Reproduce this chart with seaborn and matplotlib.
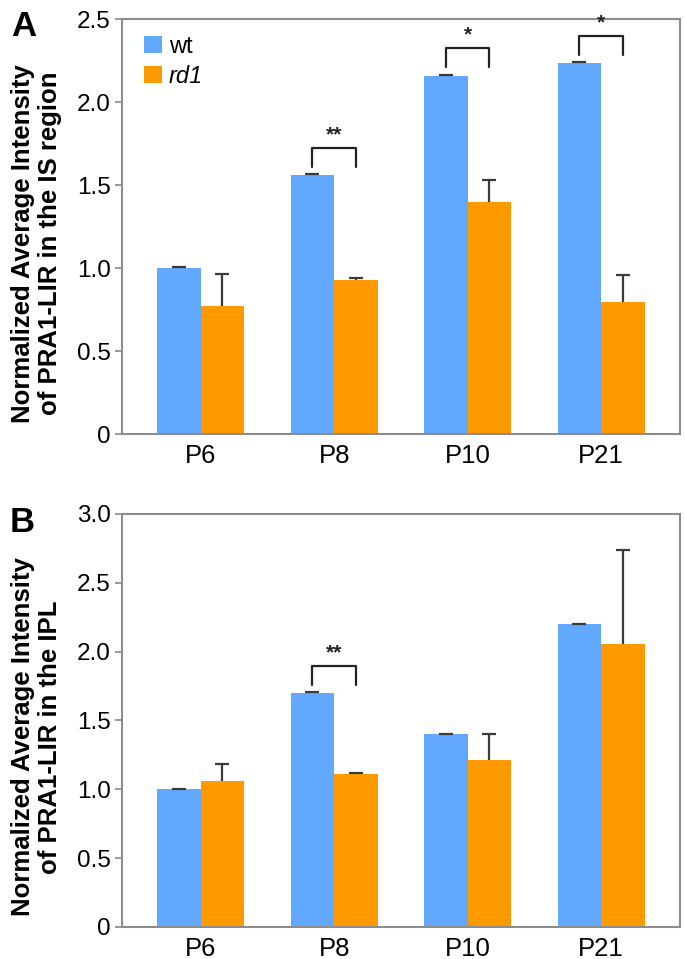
import numpy as np
import pandas as pd
import matplotlib
matplotlib.use("Agg")
import matplotlib.pyplot as plt
import seaborn as sns

# Data
ages = ["P6", "P8", "P10", "P21"]
groups = ["wt", "rd1"]

is_wt = [1.00, 1.56, 2.16, 2.235]
is_rd1 = [0.773, 0.93, 1.395, 0.795]
is_wt_err = [0.004, 0.004, 0.004, 0.004]
is_rd1_err = [0.19, 0.013, 0.133, 0.165]
is_sig = ["", "**", "*", "*"]

ipl_wt = [1.00, 1.70, 1.40, 2.20]
ipl_rd1 = [1.06, 1.11, 1.21, 2.055]
ipl_wt_err = [0.004, 0.004, 0.004, 0.004]
ipl_rd1_err = [0.125, 0.008, 0.195, 0.68]
ipl_sig = ["", "**", "", ""]

wt_color = "#62A8FF"
rd1_color = "#FF9900"

sns.set_style("ticks")
plt.rcParams["font.family"] = ["Liberation Sans", "DejaVu Sans"]
plt.rcParams["text.color"] = "black"
plt.rcParams["axes.labelcolor"] = "black"
plt.rcParams["xtick.labelcolor"] = "black"
plt.rcParams["ytick.labelcolor"] = "black"


def make_df(wt, rd1):
    return pd.DataFrame({
        "age": ages * 2,
        "group": ["wt"] * len(ages) + ["rd1"] * len(ages),
        "value": list(wt) + list(rd1),
    })


def draw_panel(ax, wt, rd1, wt_err, rd1_err, sig, ymax, ylabel, legend):
    df = make_df(wt, rd1)
    sns.barplot(data=df, x="age", y="value", hue="group", order=ages,
                hue_order=groups, palette=[wt_color, rd1_color],
                width=0.65, gap=0, errorbar=None, ax=ax, legend=legend,
                saturation=1, edgecolor="none")

    # one-sided error bars on top of each bar (upper cap only)
    for cont, err in zip(ax.containers, [wt_err, rd1_err]):
        xs = [b.get_x() + b.get_width() / 2 for b in cont]
        hs = [b.get_height() for b in cont]
        eb = ax.errorbar(xs, hs, yerr=[np.zeros(len(err)), err], fmt="none",
                         ecolor="#3a3a3a", elinewidth=1.6, capsize=5,
                         capthick=1.6)
        eb[1][0].set_visible(False)

    # significance brackets
    wt_bars = list(ax.containers[0])
    rd_bars = list(ax.containers[1])
    for i, s in enumerate(sig):
        if not s:
            continue
        x1 = wt_bars[i].get_x() + wt_bars[i].get_width() / 2
        x2 = rd_bars[i].get_x() + rd_bars[i].get_width() / 2
        h = wt_bars[i].get_height()
        leg = h + 0.02 * ymax
        top = h + 0.066 * ymax
        ax.plot([x1, x1, x2, x2], [leg, top, top, leg], color="#222222", lw=1.6)
        ax.text((x1 + x2) / 2, top + 0.008 * ymax, s, ha="center", va="bottom",
                fontsize=15, fontweight="bold", color="#222222")

    ax.set_xlim(-0.59, 3.59)
    ax.set_ylim(0, ymax)
    ticks = np.arange(0, ymax + 0.01, 0.5)
    ax.set_yticks(ticks)
    ax.set_yticklabels(["0"] + [f"{t:.1f}" for t in ticks[1:]], fontsize=17.5)
    ax.set_xticks(range(len(ages)))
    ax.set_xticklabels(ages, fontsize=18.5)
    ax.tick_params(axis="x", length=0, pad=7)
    ax.tick_params(axis="y", length=5, width=1.2, color="#888888", pad=3)
    ax.set_xlabel("")
    ax.set_ylabel(ylabel, fontsize=18.5, fontweight="bold", linespacing=1.15)
    ax.yaxis.set_label_coords(-0.108, 0.46)
    for sp in ax.spines.values():
        sp.set_visible(True)
        sp.set_color("#8c8c8c")
        sp.set_linewidth(1.5)


fig = plt.figure(figsize=(6.85, 9.59), dpi=100)
ax_a = fig.add_axes([0.178, 0.5474, 0.8146, 0.4327])
ax_b = fig.add_axes([0.178, 0.0334, 0.8146, 0.4307])

draw_panel(ax_a, is_wt, is_rd1, is_wt_err, is_rd1_err, is_sig, 2.5,
           "Normalized Average Intensity\nof PRA1-LIR in the IS region", True)
draw_panel(ax_b, ipl_wt, ipl_rd1, ipl_wt_err, ipl_rd1_err, ipl_sig, 3.0,
           "Normalized Average Intensity\nof PRA1-LIR in the IPL", False)

leg = ax_a.legend(loc="upper left", bbox_to_anchor=(0.04, 0.96), frameon=False,
                  fontsize=17, handlelength=0.75, handleheight=0.75,
                  handletextpad=0.3, labelspacing=0.3, borderpad=0,
                  borderaxespad=0)
leg.get_texts()[1].set_fontstyle("italic")

fig.text(0.016, 0.9625, "A", fontsize=25, fontweight="bold", va="baseline")
fig.text(0.014, 0.4453, "B", fontsize=25, fontweight="bold", va="baseline")

fig.savefig("out.png", dpi=100)
